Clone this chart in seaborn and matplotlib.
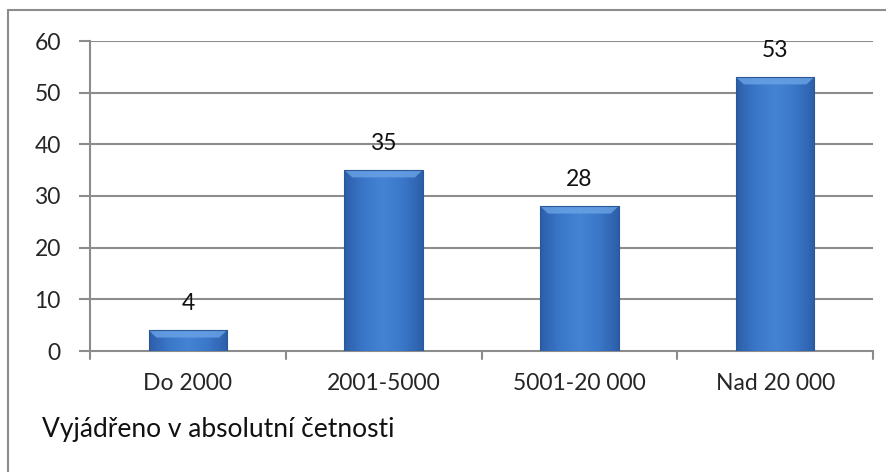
import numpy as np
import pandas as pd
import matplotlib
matplotlib.use("Agg")
import matplotlib.pyplot as plt
from matplotlib.colors import LinearSegmentedColormap
from matplotlib.patches import Polygon
from matplotlib.lines import Line2D
import seaborn as sns

categories = ["Do 2000", "2001-5000", "5001-20 000", "Nad 20 000"]
counts = [4, 35, 28, 53]
y_ticks = [0, 10, 20, 30, 40, 50, 60]
caption = "Vyjádřeno v absolutní četnosti"

df = pd.DataFrame({"kategorie": categories, "pocet": counts})

sns.set_theme(style="white")
plt.rcParams["font.family"] = ["Lato", "DejaVu Sans"]
FS = 16.5

fig = plt.figure(figsize=(8.86, 4.72), dpi=100)
ax = fig.add_axes([90 / 886, 1 - 351 / 472, (873 - 90) / 886, (351 - 41) / 472])

sns.barplot(data=df, x="kategorie", y="pocet", ax=ax, width=0.4,
            color="#3a72c4", saturation=1, edgecolor="#2a5797", linewidth=0.8, zorder=3)

ax.set_ylim(0, 60)
ax.set_xlim(-0.5, len(categories) - 0.5)
ax.set_yticks(y_ticks)
ax.set_xlabel("")
ax.set_ylabel("")

grid_col = "#8c8c8c"
for v in y_ticks[1:]:
    ax.axhline(v, color=grid_col, lw=1.5, zorder=1)
for s in ["top", "right"]:
    ax.spines[s].set_visible(False)
for s in ["left", "bottom"]:
    ax.spines[s].set_color(grid_col)
    ax.spines[s].set_linewidth(1.5)

ax.tick_params(axis="y", length=8, width=1.5, color=grid_col, labelsize=FS, pad=13, direction="out", left=True)
ax.tick_params(axis="x", length=0, labelsize=FS, pad=16)
# category boundary ticks below the axis
for b in np.arange(-0.5, len(categories), 1.0):
    ax.add_line(Line2D([b, b], [0, -1.6], color=grid_col, lw=1.5, clip_on=False,
                       transform=ax.transData, zorder=2))

# gradient fill with bevelled top for each bar
cmap = LinearSegmentedColormap.from_list(
    "bar", ["#2c5ea8", "#3b77c9", "#4483d3", "#3b77c9", "#2c5ea8"])
grad = np.linspace(0, 1, 256).reshape(1, -1)
for patch in ax.patches:
    x0, y0 = patch.get_x(), patch.get_y()
    w, h = patch.get_width(), patch.get_height()
    im = ax.imshow(grad, cmap=cmap, aspect="auto", extent=[x0, x0 + w, y0, y0 + h],
                   zorder=3.5, interpolation="bilinear")
    im.set_clip_path(patch)
    bev_x = w * 0.1
    bev_y = min(h * 0.35, 1.4)
    ax.add_patch(Polygon([[x0, y0 + h], [x0 + w, y0 + h], [x0 + w - bev_x, y0 + h - bev_y],
                          [x0 + bev_x, y0 + h - bev_y]], closed=True,
                         facecolor="#6aa3e6", edgecolor="none", alpha=0.8, zorder=3.7))
    patch.set_facecolor("none")
    patch.set_zorder(4)

ax.set_xlim(-0.5, len(categories) - 0.5)
ax.set_ylim(0, 60)

for i, v in enumerate(counts):
    ax.annotate(str(v), (i, v), xytext=(0, 19), textcoords="offset points",
                ha="center", va="center", fontsize=FS, color="#111111", zorder=5)

fig.text(42 / 886, 1 - 429 / 472, caption, fontsize=19, ha="left", va="center", color="#111111")

# frame lines on the left and top of the chart area
fig.add_artist(Line2D([8 / 886, 8 / 886], [0, 1 - 10 / 472], color="#8c8c8c", lw=1.5,
                      transform=fig.transFigure))
fig.add_artist(Line2D([8 / 886, 1], [1 - 10 / 472, 1 - 10 / 472], color="#8c8c8c", lw=1.5,
                      transform=fig.transFigure))

fig.savefig("out.png", dpi=100, facecolor="white")
